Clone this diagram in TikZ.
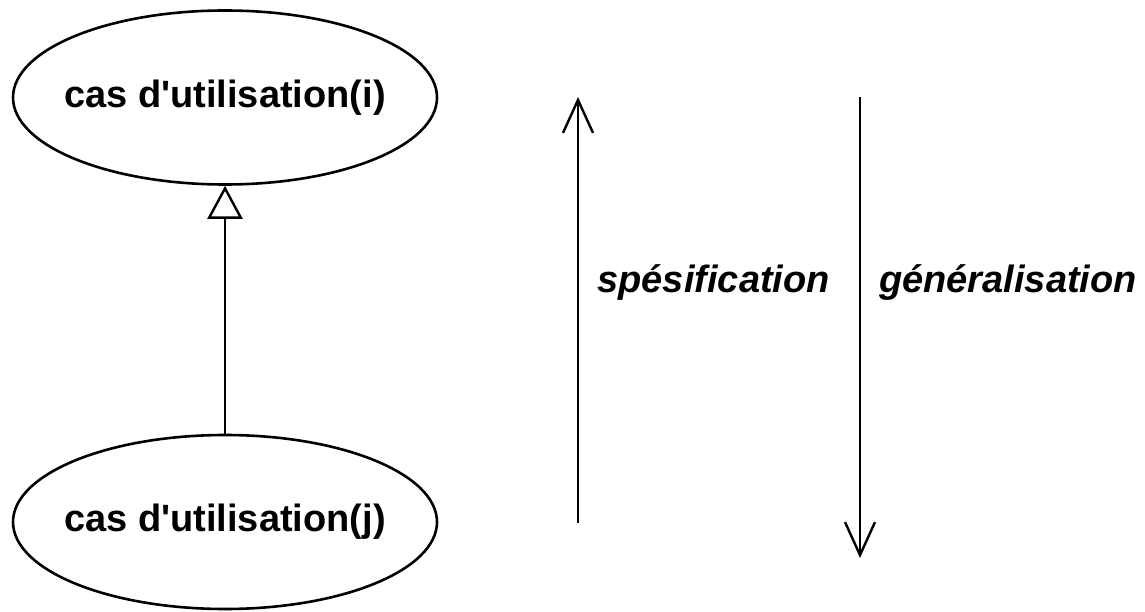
\documentclass[tikz,border=0pt]{standalone}
\usepackage{fontspec}
\setmainfont{Liberation Sans}[Ligatures=TeXOff]
\usetikzlibrary{shapes.geometric,arrows.meta}
\begin{document}
\begin{tikzpicture}[x=1pt,y=1pt,
  usecase/.style={draw, line width=2.6pt, ellipse, minimum width=424pt,
    minimum height=174pt, inner sep=0pt,
    font=\fontsize{38}{40}\selectfont\bfseries},
  dirlabel/.style={inner sep=0pt, font=\fontsize{38}{40}\selectfont\bfseries\itshape},
  genline/.style={line width=2.4pt, -{Triangle[open, length=33pt, width=35pt, line width=2.4pt]}},
  dirarrow/.style={line width=2.4pt, -{Straight Barb[length=33pt, width=30pt, line width=2.4pt]}}]
  \useasboundingbox (0,0) rectangle (1145,611);

  % two use cases linked by a generalisation
  \node[usecase] (ucI) at (225,513.5) {\makebox[0pt]{cas d'utilisation(i)}};
  \node[usecase] (ucJ) at (225,89) {\makebox[0pt]{cas d'utilisation(j)}};
  \draw[genline] (ucJ) -- (ucI);

  % direction arrows
  \coordinate (specLow) at (578,88);
  \coordinate (specHigh) at (578,514);
  \coordinate (genHigh) at (860,514);
  \coordinate (genLow) at (860,53);
  \draw[dirarrow] (specLow) -- (specHigh);
  \draw[dirarrow] (genHigh) -- (genLow);

  \node[dirlabel, anchor=base east] (specText) at (830,318) {spésification};
  \node[dirlabel, anchor=base west] (genText) at (879,318) {généralisation};
\end{tikzpicture}
\end{document}
